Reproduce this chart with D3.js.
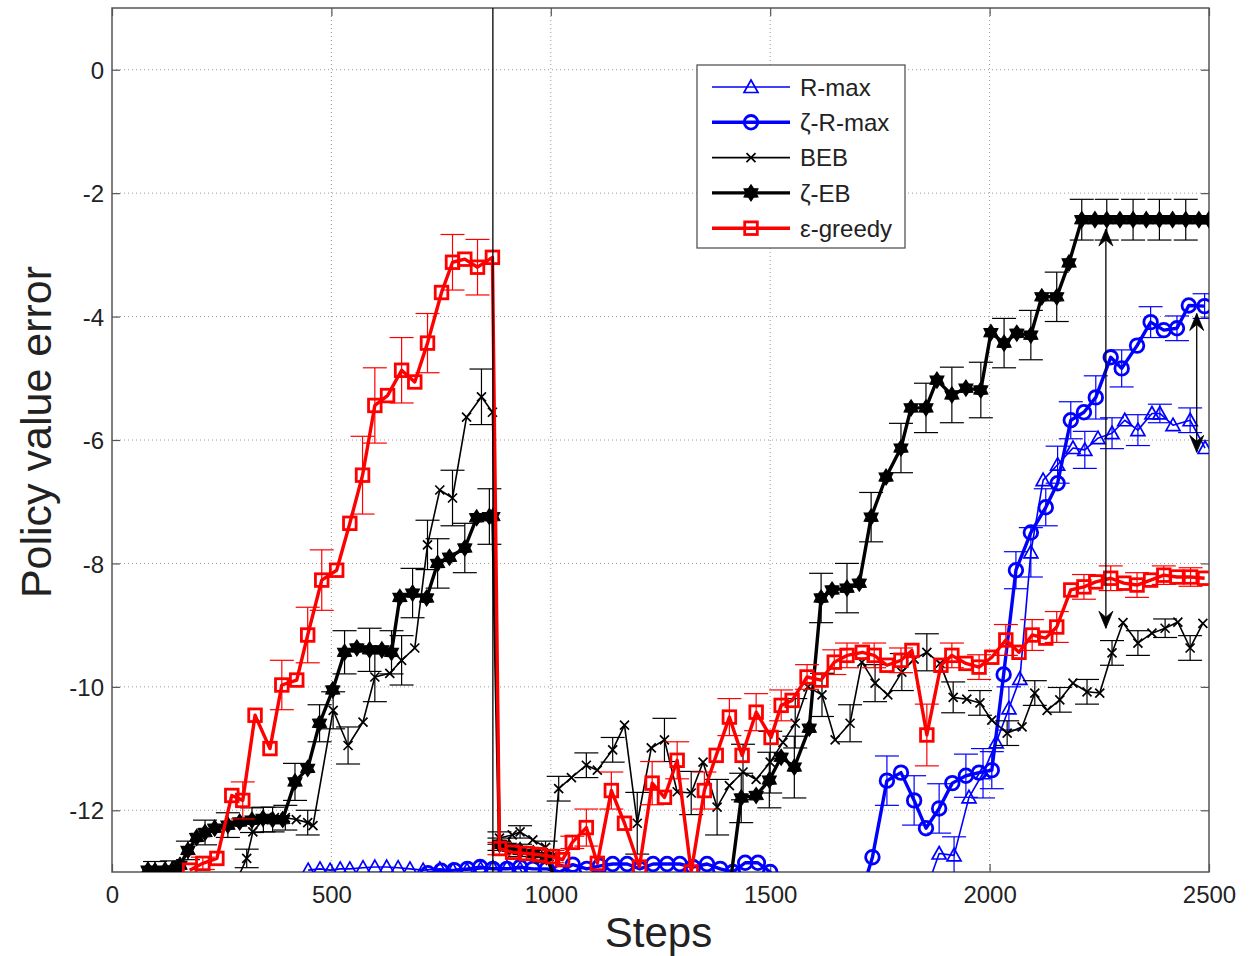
<!DOCTYPE html>
<html>
<head>
<meta charset="utf-8">
<script src="https://cdn.jsdelivr.net/npm/d3@7"></script>
<style>
  html, body { margin: 0; padding: 0; background: #fff; }
  svg { display: block; font-family: "Liberation Sans", Arial, Helvetica, sans-serif; }
</style>
</head>
<body>
<svg id="chart" width="1253" height="956"></svg>
<script>
// ---- axis set-up ----
const stepDomain = [0, 2500];
const errorDomain = [-13, 1];
const xTicks = [0, 500, 1000, 1500, 2000, 2500];
const yTicks = [-12, -10, -8, -6, -4, -2, 0];
const seriesNames = ["R-max", "\u03B6-R-max", "BEB", "\u03B6-EB", "\u03B5-greedy"];

// ---- series: [step, policy value error, error-bar half length] ----
const rmax = [
  [447,-12.97,0],[474,-12.95,0],[497,-12.97,0],[520,-12.95,0],[542,-12.95,0],[572,-12.93,0],
  [599,-12.92,0],[626,-12.92,0],[652,-12.93,0],[679,-12.95,0],[709,-12.97,0],[747,-12.95,0],
  [777,-12.97,0],[809,-12.97,0],[840,-12.95,0],[868,-12.93,0],[900,-12.93,0],[930,-12.95,0],
  [960,-13.3,0],[1850,-13.4,0],[1885,-12.7,0],[1919,-12.73,0.3],[1953,-11.79,0],[1985,-11.4,0.4],
  [2015,-10.9,0],[2044,-10.35,0.35],[2069,-9.87,0],[2094,-7.82,0.4],[2122,-6.65,0],[2155,-6.4,0.3],
  [2190,-6.13,0],[2217,-6.16,0.3],[2247,-5.97,0],[2279,-5.89,0.25],[2308,-5.68,0],[2338,-5.84,0.25],
  [2370,-5.57,0],[2388,-5.57,0.15],[2418,-5.76,0],[2457,-5.68,0.2],[2491,-6.13,0]
];

const zetaRmax = [
  [690,-13.3,0],[720,-13.02,0],[750,-12.98,0],[780,-12.97,0],[810,-12.95,0],[839,-12.92,0],
  [868,-12.95,0],[900,-12.95,0],[930,-12.92,0],[959,-12.95,0],[991,-12.95,0],[1021,-13.0,0],
  [1050,-12.88,0],[1082,-12.95,0],[1112,-12.9,0],[1141,-12.87,0],[1174,-12.87,0],[1203,-12.95,0],
  [1233,-12.87,0],[1265,-12.87,0],[1294,-12.87,0],[1324,-12.92,0],[1356,-12.87,0],[1386,-12.95,0],
  [1415,-13.0,0],[1443,-12.85,0],[1472,-12.85,0],[1500,-13.0,0],[1530,-13.4,0],[1710,-13.3,0],
  [1733,-12.76,0],[1766,-11.52,0.4],[1798,-11.39,0],[1828,-11.84,0.4],[1855,-12.29,0],[1885,-11.97,0.4],
  [1915,-11.56,0],[1946,-11.44,0.35],[1976,-11.39,0],[2005,-11.35,0.3],[2032,-9.8,0],[2060,-8.11,0.3],
  [2094,-7.5,0],[2128,-7.09,0.3],[2155,-6.7,0],[2185,-5.68,0.3],[2215,-5.55,0],[2242,-5.31,0.35],
  [2276,-4.66,0],[2301,-4.84,0.3],[2336,-4.47,0],[2367,-4.09,0.25],[2397,-4.22,0],[2427,-4.19,0.2],
  [2454,-3.82,0],[2490,-3.83,0.2]
];

const beb = [
  [280,-13.2,0],[307,-12.78,0.15],[321,-12.35,0],[345,-12.15,0.2],[370,-12.12,0],[395,-12.12,0.2],
  [420,-12.15,0],[446,-12.2,0.2],[458,-12.25,0],[504,-10.38,0.3],[538,-10.95,0.3],[572,-10.57,0],
  [599,-9.84,0.4],[633,-9.78,0],[660,-9.57,0.4],[690,-9.37,0],[719,-7.7,0.4],[747,-6.81,0],
  [776,-6.94,0.45],[808,-5.63,0],[842,-5.3,0.45],[867,-5.55,0],[883,-12.45,0.1],[912,-12.4,0],
  [930,-12.35,0.1],[959,-12.48,0],[988,-12.6,0.1],[1005,-12.75,0],[1018,-11.65,0.2],[1047,-11.47,0],
  [1081,-11.27,0.2],[1106,-11.35,0],[1141,-11.02,0.2],[1168,-10.62,0],[1197,-12.21,0.5],[1229,-10.99,0],
  [1259,-10.86,0.35],[1288,-11.7,0],[1320,-11.72,0.35],[1347,-11.22,0],[1379,-11.95,0.45],[1407,-11.6,0],
  [1438,-11.38,0.45],[1468,-11.5,0],[1500,-11.22,0.5],[1529,-10.9,0],[1557,-10.59,0.4],[1586,-10.0,0],
  [1618,-10.13,0.35],[1648,-10.86,0],[1682,-10.59,0.3],[1709,-9.6,0],[1739,-9.94,0.3],[1768,-10.13,0],
  [1800,-9.76,0.3],[1828,-9.55,0],[1857,-9.44,0.3],[1887,-9.62,0],[1917,-10.17,0.25],[1948,-10.2,0],
  [1978,-10.26,0.2],[2005,-10.54,0],[2040,-10.75,0.2],[2074,-10.65,0],[2103,-10.1,0.2],[2131,-10.38,0],
  [2160,-10.21,0.2],[2190,-9.94,0],[2222,-10.08,0.2],[2251,-10.1,0],[2279,-9.45,0.2],[2304,-8.96,0],
  [2338,-9.29,0.2],[2370,-9.13,0],[2400,-9.05,0.15],[2429,-8.95,0],[2457,-9.37,0.2],[2486,-8.97,0]
];

const zetaEb = [
  [82,-12.97,0],[98,-12.98,0.15],[121,-12.97,0],[137,-12.97,0.15],[155,-12.89,0],[173,-12.65,0.15],
  [193,-12.44,0],[212,-12.36,0.2],[234,-12.29,0],[264,-12.24,0.2],[291,-12.19,0],[319,-12.16,0.2],
  [344,-12.13,0],[366,-12.15,0.2],[389,-12.15,0],[417,-11.54,0.3],[446,-11.32,0],[473,-10.59,0.3],
  [503,-10.05,0],[530,-9.44,0.35],[558,-9.37,0],[587,-9.4,0.35],[615,-9.4,0],[637,-9.44,0.35],
  [656,-8.55,0],[685,-8.48,0.4],[717,-8.56,0],[742,-8.0,0.4],[769,-7.9,0],[804,-7.75,0.4],
  [831,-7.26,0],[860,-7.24,0.45],[868,-7.24,0],[883,-12.55,0.1],[905,-12.6,0],[930,-12.65,0.1],
  [960,-12.7,0],[990,-12.75,0.1],[1020,-13.3,0],[1405,-13.4,0],[1434,-11.8,0.4],[1468,-11.76,0],
  [1498,-11.51,0.45],[1525,-11.14,0],[1555,-11.3,0.5],[1589,-10.67,0],[1616,-8.56,0.4],[1641,-8.43,0],
  [1675,-8.4,0.4],[1703,-8.32,0],[1730,-7.25,0.4],[1764,-6.6,0],[1798,-6.13,0.4],[1821,-5.48,0],
  [1855,-5.48,0.4],[1880,-5.03,0],[1914,-5.27,0.45],[1946,-5.16,0],[1980,-5.19,0.45],[2003,-4.26,0],
  [2033,-4.43,0.4],[2062,-4.27,0],[2094,-4.3,0.4],[2119,-3.68,0],[2153,-3.68,0.4],[2181,-3.13,0],
  [2210,-2.43,0.33],[2240,-2.43,0],[2267,-2.43,0.33],[2297,-2.43,0],[2327,-2.43,0.33],[2357,-2.43,0],
  [2387,-2.43,0.33],[2417,-2.43,0],[2447,-2.43,0.33],[2477,-2.43,0],[2500,-2.43,0]
];

const epsGreedy = [
  [177,-12.97,0],[207,-12.86,0.1],[239,-12.78,0],[273,-11.76,0],[298,-11.84,0.3],[326,-10.46,0],
  [360,-11.0,0],[387,-9.97,0.4],[421,-9.89,0],[446,-9.16,0.45],[478,-8.27,0.49],[512,-8.11,0],
  [542,-7.35,0],[571,-6.57,0.63],[599,-5.44,0.61],[628,-5.28,0],[660,-4.87,0.53],[690,-5.06,0],
  [719,-4.43,0.48],[751,-3.61,0],[776,-3.12,0.45],[804,-3.07,0],[833,-3.2,0.45],[867,-3.04,0],
  [883,-12.62,0.1],[913,-12.68,0],[945,-12.7,0.1],[974,-12.72,0],[1004,-12.75,0.1],[1027,-12.8,0],
  [1049,-12.52,0.1],[1081,-12.28,0.3],[1106,-12.86,0],[1138,-11.68,0.3],[1168,-12.21,0],[1202,-12.92,0],
  [1231,-11.56,0.35],[1259,-11.79,0],[1288,-11.19,0.3],[1320,-13.0,0],[1350,-11.68,0.3],[1377,-11.11,0],
  [1407,-10.49,0.3],[1436,-11.11,0],[1468,-10.41,0.3],[1502,-10.82,0],[1525,-10.3,0.25],[1550,-10.22,0],
  [1584,-9.84,0.2],[1616,-9.89,0],[1646,-9.6,0.2],[1675,-9.49,0.2],[1710,-9.44,0],[1737,-9.49,0.2],
  [1766,-9.65,0],[1798,-9.57,0.2],[1823,-9.41,0],[1857,-10.78,0.5],[1889,-9.65,0],[1914,-9.49,0.2],
  [1946,-9.62,0],[1976,-9.68,0.2],[2005,-9.52,0],[2037,-9.24,0.25],[2067,-9.44,0],[2097,-9.16,0.25],
  [2128,-9.21,0],[2153,-9.03,0.25],[2185,-8.43,0],[2215,-8.38,0.2],[2242,-8.3,0],[2276,-8.24,0.2],
  [2306,-8.32,0],[2336,-8.35,0.2],[2367,-8.27,0],[2397,-8.19,0.15],[2427,-8.22,0],[2458,-8.22,0.15],
  [2490,-8.24,0]
];

// annotations: a full-height marker line and two double-headed gap arrows
const markerSteps = [868];
const gapArrows = [
  { step: 2265, from: -2.58, to: -9.05 },
  { step: 2472, from: -3.95, to: -6.2 }
];

// ---- drawing ----
const svg = d3.select("#chart");
const box = { left: 112, right: 1209, top: 8, bottom: 872 };

const x = d3.scaleLinear().domain(stepDomain).range([box.left, box.right]);
const y = d3.scaleLinear().domain(errorDomain).range([box.bottom, box.top]);

svg.append("rect").attr("width", 1253).attr("height", 956).attr("fill", "#fff");

// dotted grid
const grid = svg.append("g").attr("stroke", "#9a9a9a").attr("stroke-width", 1)
  .attr("stroke-dasharray", "1,3");
grid.selectAll("line.gx").data(xTicks.filter(t => t > stepDomain[0] && t < stepDomain[1]))
  .join("line").attr("class", "gx")
  .attr("x1", d => x(d)).attr("x2", d => x(d))
  .attr("y1", box.top).attr("y2", box.bottom);
grid.selectAll("line.gy").data(yTicks)
  .join("line").attr("class", "gy")
  .attr("x1", box.left).attr("x2", box.right)
  .attr("y1", d => y(d)).attr("y2", d => y(d));

// axes with inward ticks
const fontTick = "24px";
const axL = svg.append("g").attr("transform", `translate(${box.left},0)`)
  .call(d3.axisLeft(y).tickValues(yTicks).tickSize(-8).tickPadding(8).tickFormat(d3.format("d")));
const axB = svg.append("g").attr("transform", `translate(0,${box.bottom})`)
  .call(d3.axisBottom(x).tickValues(xTicks).tickSize(-8).tickPadding(14).tickFormat(d3.format("d")));
const axR = svg.append("g").attr("transform", `translate(${box.right},0)`)
  .call(d3.axisRight(y).tickValues(yTicks).tickSize(-8).tickFormat(""));
const axT = svg.append("g").attr("transform", `translate(0,${box.top})`)
  .call(d3.axisTop(x).tickValues(xTicks).tickSize(-8).tickFormat(""));
[axL, axB, axR, axT].forEach(a => {
  a.select(".domain").remove();
  a.selectAll(".tick line").attr("stroke", "#555").attr("stroke-width", 1.2);
  a.selectAll("text").attr("fill", "#222").style("font-size", fontTick)
    .style("font-family", '"Liberation Sans", Arial, sans-serif');
});
axL.selectAll("text").attr("dy", "0.36em");
// plain hyphen minus signs on the value axis
axL.selectAll("text").text(d => String(d));

// plot frame
svg.append("rect")
  .attr("x", box.left).attr("y", box.top)
  .attr("width", box.right - box.left).attr("height", box.bottom - box.top)
  .attr("fill", "none").attr("stroke", "#555").attr("stroke-width", 1.5);

// axis titles
svg.append("text").attr("x", (box.left + box.right) / 2 - 2).attr("y", 947)
  .attr("text-anchor", "middle").attr("fill", "#222")
  .style("font-size", "42px").text("Steps");
svg.append("text")
  .attr("transform", `translate(51,${(box.top + box.bottom) / 2 - 8}) rotate(-90)`)
  .attr("text-anchor", "middle").attr("fill", "#222")
  .style("font-size", "43px").text("Policy value error");

// clip region for data
svg.append("clipPath").attr("id", "plotclip").append("rect")
  .attr("x", box.left).attr("y", box.top)
  .attr("width", box.right - box.left).attr("height", box.bottom - box.top);
const plotG = svg.append("g").attr("clip-path", "url(#plotclip)");

// marker painters
function drawMarker(g, kind, color, cx, cy) {
  if (kind === "tri") {
    g.append("path").attr("d", `M${cx},${cy - 7}L${cx + 7},${cy + 5.5}L${cx - 7},${cy + 5.5}Z`)
      .attr("fill", "none").attr("stroke", color).attr("stroke-width", 1.7);
  } else if (kind === "circle") {
    g.append("circle").attr("cx", cx).attr("cy", cy).attr("r", 6.8)
      .attr("fill", "none").attr("stroke", color).attr("stroke-width", 2.8);
  } else if (kind === "x") {
    g.append("path").attr("d", `M${cx - 4.5},${cy - 4.5}L${cx + 4.5},${cy + 4.5}M${cx - 4.5},${cy + 4.5}L${cx + 4.5},${cy - 4.5}`)
      .attr("stroke", color).attr("stroke-width", 1.7);
  } else if (kind === "star") {
    const r = 8, pts = [];
    for (let i = 0; i < 12; i++) {
      const a = -Math.PI / 2 + i * Math.PI / 6;
      const rr = i % 2 === 0 ? r : r * 0.62;
      pts.push([cx + rr * Math.cos(a), cy + rr * Math.sin(a)]);
    }
    g.append("path").attr("d", "M" + pts.map(p => p.join(",")).join("L") + "Z")
      .attr("fill", color).attr("stroke", color).attr("stroke-width", 1.2);
  } else if (kind === "square") {
    g.append("rect").attr("x", cx - 6.3).attr("y", cy - 6.3).attr("width", 12.6).attr("height", 12.6)
      .attr("fill", "none").attr("stroke", color).attr("stroke-width", 2.8);
  }
}

const series = [
  { name: seriesNames[0], data: rmax,      color: "#0000ff", width: 1.6, marker: "tri" },
  { name: seriesNames[1], data: zetaRmax,  color: "#0000ff", width: 3.4, marker: "circle" },
  { name: seriesNames[2], data: beb,       color: "#000000", width: 1.6, marker: "x" },
  { name: seriesNames[3], data: zetaEb,    color: "#000000", width: 3.4, marker: "star" },
  { name: seriesNames[4], data: epsGreedy, color: "#ff0000", width: 3.4, marker: "square" }
];

const line = d3.line().x(d => x(d[0])).y(d => y(d[1]));
const capHalf = 12;

series.forEach(s => {
  const g = plotG.append("g");
  // error bars
  const eb = g.append("g").attr("stroke", s.color).attr("stroke-width", 1.2);
  s.data.filter(d => d[2] > 0).forEach(d => {
    const cx = x(d[0]), y1 = y(d[1] - d[2]), y2 = y(d[1] + d[2]);
    eb.append("line").attr("x1", cx).attr("x2", cx).attr("y1", y1).attr("y2", y2);
    eb.append("line").attr("x1", cx - capHalf).attr("x2", cx + capHalf).attr("y1", y1).attr("y2", y1);
    eb.append("line").attr("x1", cx - capHalf).attr("x2", cx + capHalf).attr("y1", y2).attr("y2", y2);
  });
  // line
  g.append("path").datum(s.data).attr("d", line)
    .attr("fill", "none").attr("stroke", s.color).attr("stroke-width", s.width)
    .attr("stroke-linejoin", "round");
  // markers
  const mg = g.append("g");
  s.data.forEach(d => drawMarker(mg, s.marker, s.color, x(d[0]), y(d[1])));
});

// annotations
const ann = svg.append("g").attr("stroke", "#000");
markerSteps.forEach(st => {
  ann.append("line").attr("x1", x(st)).attr("x2", x(st))
    .attr("y1", box.top).attr("y2", box.bottom).attr("stroke-width", 1.3);
});
function arrowHead(px, py, dir) {
  // dir = -1 points up, +1 points down
  const L = 17, Wd = 7, notch = 11;
  const d = `M${px},${py}L${px + Wd},${py - dir * L}L${px},${py - dir * notch}L${px - Wd},${py - dir * L}Z`;
  svg.append("path").attr("d", d).attr("fill", "#000").attr("stroke", "#000").attr("stroke-width", 0.8);
}
gapArrows.forEach(a => {
  const px = x(a.step);
  ann.append("line").attr("x1", px).attr("x2", px)
    .attr("y1", y(a.from)).attr("y2", y(a.to)).attr("stroke-width", 1.3);
  arrowHead(px, y(a.from), -1);
  arrowHead(px, y(a.to), 1);
});

// legend
const leg = svg.append("g");
const legBox = { x: 697, y: 65, w: 208, h: 183 };
leg.append("rect").attr("x", legBox.x).attr("y", legBox.y).attr("width", legBox.w).attr("height", legBox.h)
  .attr("fill", "#fff").attr("stroke", "#555").attr("stroke-width", 1.3);
series.forEach((s, i) => {
  const ry = 87 + i * 35.3;
  leg.append("line").attr("x1", 712).attr("x2", 790).attr("y1", ry).attr("y2", ry)
    .attr("stroke", s.color).attr("stroke-width", s.width);
  drawMarker(leg, s.marker, s.color, 751, ry);
  leg.append("text").attr("x", 800).attr("y", ry).attr("dy", "0.36em")
    .attr("fill", "#222").style("font-size", "24px").text(s.name);
});
</script>
</body>
</html>
